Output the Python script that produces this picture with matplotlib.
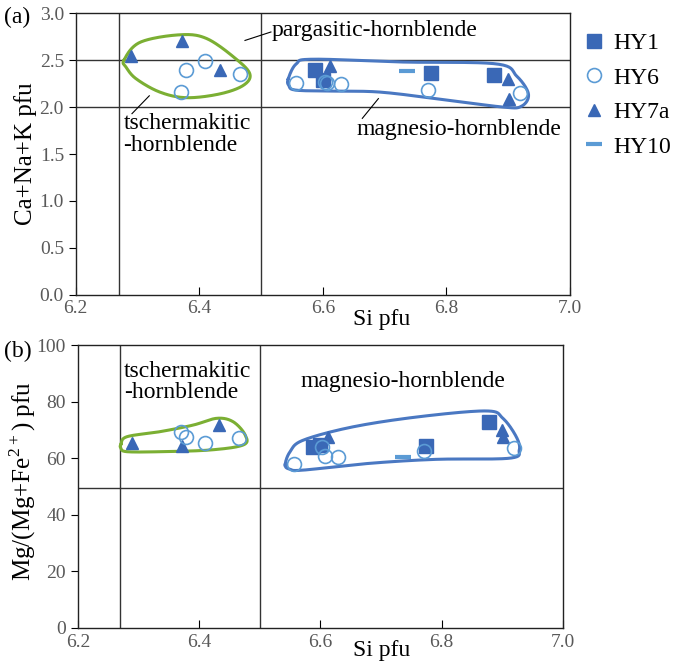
import numpy as np
import matplotlib
matplotlib.use("Agg")
import matplotlib.pyplot as plt

plt.rcParams['font.family'] = ['Liberation Serif', 'DejaVu Serif']
plt.rcParams['mathtext.fontset'] = 'custom'
plt.rcParams['mathtext.rm'] = 'Liberation Serif'

# ── data ────────────────────────────────────────────────────────────────────
hy1_si   = [6.588, 6.600, 6.775, 6.878]
hy1_cnk  = [2.40, 2.29, 2.36, 2.34]
hy1_mg   = [64.1, 64.6, 64.3, 72.9]

hy6_si   = [6.370, 6.378, 6.409, 6.466, 6.556, 6.603, 6.607, 6.629, 6.771, 6.919]
hy6_cnk  = [2.16, 2.39, 2.49, 2.35, 2.26, 2.27, 2.26, 2.25, 2.18, 2.15]
hy6_mg   = [69.4, 67.4, 65.5, 67.0, 58.0, 63.8, 60.8, 60.3, 62.7, 63.5]

hy7a_si  = [6.289, 6.372, 6.433, 6.612, 6.900, 6.901]
hy7a_cnk = [2.54, 2.70, 2.40, 2.44, 2.30, 2.09]
hy7a_mg  = [65.3, 64.3, 71.7, 67.4, 70.0, 67.4]

hy10_si  = [6.736]
hy10_cnk = [2.38]
hy10_mg  = [60.3]

# field boundaries
si_bounds  = [6.27, 6.5]
cnk_bounds = [2.0, 2.5]
mg_bound   = 49.5

# hand-drawn group outlines (control points)
env_a_green = [(6.278, 2.50), (6.304, 2.69), (6.368, 2.77), (6.412, 2.73), (6.460, 2.51),
               (6.482, 2.35), (6.471, 2.23), (6.433, 2.14), (6.379, 2.10), (6.336, 2.16),
               (6.298, 2.30), (6.282, 2.42)]
env_a_blue = [(6.544, 2.30), (6.557, 2.46), (6.584, 2.51), (6.730, 2.48), (6.881, 2.46),
              (6.914, 2.33), (6.933, 2.14), (6.922, 2.01), (6.892, 2.00), (6.784, 2.09),
              (6.692, 2.16), (6.622, 2.17), (6.557, 2.18), (6.545, 2.23)]
env_b_green = [(6.271, 64.9), (6.281, 67.6), (6.336, 69.4), (6.390, 71.7), (6.429, 74.1),
               (6.456, 72.9), (6.476, 68.2), (6.473, 64.7), (6.418, 62.9), (6.336, 62.3),
               (6.281, 62.3), (6.271, 63.5)]
env_b_blue = [(6.542, 57.6), (6.550, 56.1), (6.572, 55.8), (6.682, 58.2), (6.791, 59.6),
              (6.912, 60.0), (6.928, 62.9), (6.923, 67.6), (6.901, 74.1), (6.874, 76.7),
              (6.764, 74.7), (6.654, 71.1), (6.572, 66.4), (6.550, 62.3)]

DARK = '#3A68B6'
LIGHT = '#5B9BD5'
GREEN = '#7BAF33'
ENVBLUE = '#4A78C2'
TICKC = '#595959'


def smooth_closed(pts, n=20):
    # closed Catmull-Rom curve through the outline points
    p = np.array(pts, dtype=float)
    out = []
    k = len(p)
    for i in range(k):
        p0, p1, p2, p3 = p[i - 1], p[i], p[(i + 1) % k], p[(i + 2) % k]
        for t in np.linspace(0, 1, n, endpoint=False):
            t2, t3 = t * t, t * t * t
            out.append(0.5 * ((2 * p1) + (-p0 + p2) * t + (2 * p0 - 5 * p1 + 4 * p2 - p3) * t2
                              + (-p0 + 3 * p1 - 3 * p2 + p3) * t3))
    out.append(out[0])
    return np.array(out)


def draw_points(ax, s1, s6, s7, s10):
    ax.plot(hy1_si, s1, 's', color=DARK, ms=9.5, mec=DARK, zorder=5, label='HY1')
    ax.plot(hy6_si, s6, 'o', mfc='none', mec=LIGHT, mew=1.2, ms=10, zorder=6, label='HY6')
    ax.plot(hy7a_si, s7, '^', color=DARK, ms=9, zorder=5, label='HY7a')
    ax.plot(hy10_si, s10, '_', color=LIGHT, ms=12, mew=3, zorder=5, label='HY10')


def style_axes(ax):
    ax.set_xlim(6.2, 7.0)
    ax.set_xticks([6.2, 6.4, 6.6, 6.8, 7.0])
    ax.set_xticklabels(['6.2', '6.4', '6.6', '6.8', '7.0'])
    ax.tick_params(axis='x', direction='in', length=6, labelsize=14, colors='black',
                   labelcolor=TICKC, pad=4)
    ax.tick_params(axis='y', direction='out', length=5, labelsize=14, colors='black',
                   labelcolor=TICKC)
    for s in ax.spines.values():
        s.set_linewidth(1.0)
        s.set_color('#222222')
    for xb in si_bounds:
        ax.axvline(xb, color='#333333', lw=1.0, zorder=1)
    ax.set_xlabel('Si pfu', fontsize=17)


fig = plt.figure(figsize=(6.89, 6.61), dpi=100)
ax1 = fig.add_axes([0.110, 0.554, 0.717, 0.426])
ax2 = fig.add_axes([0.113, 0.050, 0.704, 0.428])

# ── panel (a) ───────────────────────────────────────────────────────────────
style_axes(ax1)
ax1.xaxis.set_label_coords(0.62, -0.05)
ax1.set_ylim(0, 3.0)
ax1.set_yticks(np.arange(0, 3.01, 0.5))
ax1.set_yticklabels([f'{v:.1f}' for v in np.arange(0, 3.01, 0.5)])
for yb in cnk_bounds:
    ax1.axhline(yb, color='#333333', lw=1.0, zorder=1)
for env, c in [(env_a_green, GREEN), (env_a_blue, ENVBLUE)]:
    e = smooth_closed(env)
    ax1.plot(e[:, 0], e[:, 1], color=c, lw=2.2, zorder=3)
draw_points(ax1, hy1_cnk, hy6_cnk, hy7a_cnk, hy10_cnk)
ax1.set_ylabel('Ca+Na+K pfu', fontsize=18)
ax1.yaxis.set_label_coords(-0.079, 0.5)

ax1.text(6.517, 2.82, 'pargasitic-hornblende', fontsize=17, va='center', ha='left')
ax1.plot([6.474, 6.516], [2.71, 2.80], color='black', lw=0.8)
ax1.text(6.277, 1.94, 'tschermakitic\n-hornblende', fontsize=17, va='top', ha='left',
         linespacing=1.05)
ax1.plot([6.319, 6.291], [2.12, 1.93], color='black', lw=0.8)
ax1.text(6.655, 1.76, 'magnesio-hornblende', fontsize=17, va='center', ha='left')
ax1.plot([6.690, 6.664], [2.09, 1.88], color='black', lw=0.8)

# ── panel (b) ───────────────────────────────────────────────────────────────
style_axes(ax2)
ax2.xaxis.set_label_coords(0.627, -0.043)
ax2.set_ylim(0, 100)
ax2.set_yticks([0, 20, 40, 60, 80, 100])
ax2.axhline(mg_bound, color='#333333', lw=1.0, zorder=1)
for env, c in [(env_b_green, GREEN), (env_b_blue, ENVBLUE)]:
    e = smooth_closed(env)
    ax2.plot(e[:, 0], e[:, 1], color=c, lw=2.2, zorder=3)
draw_points(ax2, hy1_mg, hy6_mg, hy7a_mg, hy10_mg)
ax2.set_ylabel('Mg/(Mg+Fe$^{2+}$) pfu', fontsize=18)
ax2.yaxis.set_label_coords(-0.082, 0.52)

ax2.text(6.276, 94.5, 'tschermakitic\n-hornblende', fontsize=17, va='top', ha='left',
         linespacing=1.05)
ax2.text(6.568, 87.0, 'magnesio-hornblende', fontsize=17, va='center', ha='left')

fig.text(0.006, 0.973, '(a)', fontsize=17, va='center', ha='left')
fig.text(0.006, 0.468, '(b)', fontsize=17, va='center', ha='left')

handles, labels = ax1.get_legend_handles_labels()
fig.legend(handles, labels, loc='upper left', bbox_to_anchor=(0.835, 0.965),
           frameon=False, fontsize=17, handlelength=0.8, handletextpad=0.4,
           labelspacing=0.55, borderaxespad=0)

fig.savefig('out.png', dpi=100, facecolor='white')
